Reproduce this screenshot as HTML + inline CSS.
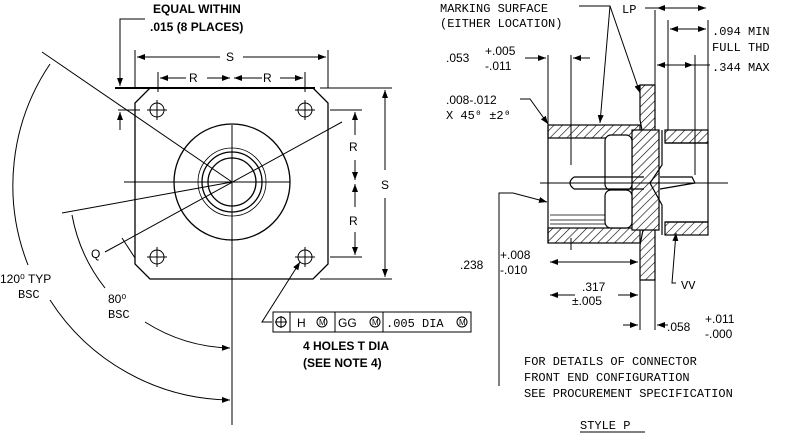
<!DOCTYPE html>
<html><head><style>
html,body{margin:0;padding:0;background:#fff;}
svg{display:block;}
text{font-family:"Liberation Sans",sans-serif;font-size:12px;fill:#000;}
.m{font-family:"Liberation Mono",monospace;font-size:12px;}
</style></head><body>
<svg width="793" height="440" viewBox="0 0 793 440" xmlns="http://www.w3.org/2000/svg">
<defs>
<pattern id="h" width="6" height="6" patternUnits="userSpaceOnUse" patternTransform="rotate(45)">
<rect width="6" height="6" fill="#fff"/><line x1="0" y1="0" x2="0" y2="6" stroke="#000" stroke-width="1.2"/></pattern>
<marker id="a" markerWidth="8" markerHeight="6" refX="8" refY="3" orient="auto" markerUnits="userSpaceOnUse"><path d="M0,0 L8,3 L0,6z" fill="#000"/></marker>
</defs>
<g stroke="#000" stroke-width="1.3" fill="none">
<path d="M150,88 L313,88 L328,103 L328,264 L313,279 L150,279 L135,264 L135,103 Z"/>
<line x1="115" y1="88" x2="315" y2="88" stroke-width="2"/>
<line x1="232" y1="125" x2="232" y2="425" stroke-width="1"/>
<line x1="124" y1="182" x2="290" y2="182" stroke-width="1"/>
<circle cx="232" cy="182" r="58"/>
<circle cx="232" cy="182" r="30"/>
<circle cx="232" cy="182" r="24"/>
<circle cx="232" cy="182" r="34" stroke-width="0.8"/>
<g stroke-width="1">
<circle cx="157" cy="110" r="7"/><circle cx="305" cy="110" r="7"/><circle cx="157" cy="257" r="7"/><circle cx="305" cy="257" r="7"/>
<path d="M147,110h20M157,100v20M295,110h20M305,100v20M147,257h20M157,247v20M295,257h20M305,247v20"/>
</g>
<line x1="135" y1="50" x2="135" y2="88" stroke-width="1"/><line x1="328" y1="50" x2="328" y2="88" stroke-width="1"/>
<line x1="220" y1="57" x2="137" y2="57" stroke-width="1" marker-end="url(#a)"/><line x1="243" y1="57" x2="326" y2="57" stroke-width="1" marker-end="url(#a)"/>
<line x1="158" y1="72" x2="158" y2="92" stroke-width="1"/><line x1="305" y1="72" x2="305" y2="92" stroke-width="1"/>
<line x1="186" y1="78" x2="160" y2="78" stroke-width="1" marker-end="url(#a)"/><line x1="207" y1="78" x2="230" y2="78" stroke-width="1" marker-end="url(#a)"/>
<line x1="262" y1="78" x2="234" y2="78" stroke-width="1" marker-end="url(#a)"/><line x1="280" y1="78" x2="303" y2="78" stroke-width="1" marker-end="url(#a)"/>
<line x1="320" y1="88" x2="392" y2="88" stroke-width="1"/><line x1="320" y1="279" x2="392" y2="279" stroke-width="1"/>
<line x1="385" y1="170" x2="385" y2="90" stroke-width="1" marker-end="url(#a)"/><line x1="385" y1="198" x2="385" y2="277" stroke-width="1" marker-end="url(#a)"/>
<line x1="330" y1="110" x2="362" y2="110" stroke-width="1"/><line x1="330" y1="257" x2="362" y2="257" stroke-width="1"/>
<line x1="355" y1="135" x2="355" y2="112" stroke-width="1" marker-end="url(#a)"/><line x1="355" y1="160" x2="355" y2="180" stroke-width="1" marker-end="url(#a)"/>
<line x1="355" y1="207" x2="355" y2="184" stroke-width="1" marker-end="url(#a)"/><line x1="355" y1="232" x2="355" y2="255" stroke-width="1" marker-end="url(#a)"/>
<polyline points="145,19 120,19 120,86" stroke-width="1" marker-end="url(#a)"/>
<line x1="118" y1="110" x2="140" y2="110" stroke-width="1"/>
<line x1="120" y1="130" x2="120" y2="112" stroke-width="1" marker-end="url(#a)"/>
<line x1="232" y1="182" x2="42" y2="52" stroke-width="1"/>
<line x1="232" y1="182" x2="62" y2="213" stroke-width="1"/>
<line x1="105" y1="252" x2="342" y2="122" stroke-width="1"/>
<line x1="122" y1="238" x2="135" y2="258" stroke-width="1"/>
<path d="M50,64 A217 217 0 0 0 28,265" stroke-width="1"/>
<path d="M50,300 A217 217 0 0 0 230,400" stroke-width="1" marker-end="url(#a)"/>
<path d="M72,215 A166 166 0 0 0 105,288" stroke-width="1"/>
<path d="M145,322 A166 166 0 0 0 230,348" stroke-width="1" marker-end="url(#a)"/>
<polyline points="272,322 262,322 300,262" stroke-width="1" marker-end="url(#a)"/>
<rect x="273" y="312" width="198" height="20" stroke-width="1"/>
<path d="M290,312v20M335,312v20M383,312v20" stroke-width="1"/>
<circle cx="281" cy="322" r="5" stroke-width="1"/><path d="M275,322h12M281,316v12" stroke-width="1"/>
<circle cx="322" cy="322" r="5" stroke-width="1"/><circle cx="375" cy="322" r="5" stroke-width="1"/><circle cx="462" cy="322" r="5" stroke-width="1"/>
</g>
<g>
<text x="153" y="13" font-weight="bold">EQUAL WITHIN</text>
<text x="150" y="31" font-weight="bold">.015 (8 PLACES)</text>
<text x="226" y="61">S</text>
<text x="189" y="82">R</text>
<text x="263" y="82">R</text>
<text x="349" y="151">R</text>
<text x="349" y="225">R</text>
<text x="381" y="189">S</text>
<text x="91" y="258">Q</text>
<text x="0" y="283">120⁰ TYP</text>
<text x="18" y="298" class="m">BSC</text>
<text x="108" y="303">80⁰</text>
<text x="108" y="318" class="m">BSC</text>
<text x="297" y="327" style="font-size:12px">H</text>
<text x="319" y="325" style="font-size:8px">M</text>
<text x="338" y="327" style="font-size:12px">GG</text>
<text x="372" y="325" style="font-size:8px">M</text>
<text x="386" y="327" class="m">.005  DIA</text>
<text x="459" y="325" style="font-size:8px">M</text>
<text x="303" y="350" font-weight="bold">4 HOLES  T  DIA</text>
<text x="303" y="367" font-weight="bold">(SEE NOTE 4)</text>
</g>
<g stroke="#000" stroke-width="1.2" fill="none">
<rect x="548" y="125" width="92" height="13" fill="url(#h)"/>
<rect x="548" y="228" width="92" height="15" fill="url(#h)"/>
<line x1="548" y1="125" x2="548" y2="243"/>
<path d="M640,85 L655,85 L655,280 L640,280 L640,245 L643,230 L643,135 L640,120 Z" fill="url(#h)"/>
<rect x="632" y="130" width="27" height="100" fill="url(#h)"/>
<rect x="605" y="135" width="27" height="55" rx="6" fill="#fff"/>
<rect x="605" y="190" width="27" height="38" rx="6" fill="#fff"/>
<rect x="665" y="130" width="43" height="13" fill="url(#h)"/>
<rect x="665" y="222" width="43" height="13" fill="url(#h)"/>
<path d="M665,143 L708,143 L708,222 L665,222"/>
<path d="M662,130 L662,165 L650,183 L662,205 L662,235"/>
<path d="M574,177 L644,177 M574,189 L644,189 M574,177 Q566,183 574,189"/>
<path d="M660,177 L692,177 L695,183 L660,189"/>
<line x1="540" y1="183" x2="728" y2="183" stroke-width="1"/>
<path d="M550,215h55M550,220h55M550,224h55" stroke-width="0.8"/>
<line x1="571" y1="238" x2="571" y2="250" stroke-width="1"/><line x1="566" y1="243" x2="576" y2="243" stroke-width="1"/>
<path d="M548,55v70M571,55v110M640,280v50M655,280v50M668,20v110M708,20v110M695,55v120M655,10v120" stroke-width="1"/>
<line x1="525" y1="58" x2="546" y2="58" stroke-width="1" marker-end="url(#a)"/>
<line x1="590" y1="58" x2="573" y2="58" stroke-width="1" marker-end="url(#a)"/>
<line x1="600" y1="262" x2="550" y2="262" stroke-width="1" marker-end="url(#a)"/>
<line x1="600" y1="262" x2="638" y2="262" stroke-width="1" marker-end="url(#a)"/>
<line x1="575" y1="295" x2="550" y2="295" stroke-width="1" marker-end="url(#a)"/>
<line x1="618" y1="295" x2="638" y2="295" stroke-width="1" marker-end="url(#a)"/>
<line x1="623" y1="325" x2="638" y2="325" stroke-width="1" marker-end="url(#a)"/>
<line x1="668" y1="325" x2="657" y2="325" stroke-width="1" marker-end="url(#a)"/>
<line x1="645" y1="8" x2="657" y2="8" stroke-width="1"/>
<line x1="680" y1="8" x2="657" y2="8" stroke-width="1" marker-end="url(#a)"/>
<line x1="680" y1="8" x2="706" y2="8" stroke-width="1" marker-end="url(#a)"/>
<line x1="685" y1="29" x2="670" y2="29" stroke-width="1" marker-end="url(#a)"/>
<line x1="685" y1="29" x2="706" y2="29" stroke-width="1" marker-end="url(#a)"/>
<line x1="675" y1="65" x2="657" y2="65" stroke-width="1" marker-end="url(#a)"/>
<line x1="675" y1="65" x2="693" y2="65" stroke-width="1" marker-end="url(#a)"/>
<line x1="693" y1="65" x2="710" y2="65" stroke-width="1"/>
<polyline points="579,6 610,6 640,93" stroke-width="1" marker-end="url(#a)"/>
<line x1="610" y1="6" x2="600" y2="123" stroke-width="1" marker-end="url(#a)"/>
<polyline points="520,99 530,99 548,124" stroke-width="1" marker-end="url(#a)"/>
<polyline points="499,386 499,193 513,193 547,202" stroke-width="1" marker-end="url(#a)"/>
<polyline points="676,283 672,283 676,233" stroke-width="1" marker-end="url(#a)"/>
<line x1="580" y1="432" x2="645" y2="432" stroke-width="1"/>
</g>
<g>
<text x="440" y="12" class="m">MARKING SURFACE</text>
<text x="440" y="27" class="m">(EITHER LOCATION)</text>
<text x="622" y="13" class="m">LP</text>
<text x="712" y="35" class="m">.094 MIN</text>
<text x="712" y="51" class="m">FULL THD</text>
<text x="712" y="71" class="m">.344 MAX</text>
<text x="446" y="62">.053</text>
<text x="485" y="55">+.005</text>
<text x="485" y="70">-.011</text>
<text x="446" y="104">.008-.012</text>
<text x="446" y="119" class="m">X 45⁰ ±2⁰</text>
<text x="460" y="269">.238</text>
<text x="500" y="259">+.008</text>
<text x="500" y="274">-.010</text>
<text x="582" y="291">.317</text>
<text x="572" y="305">±.005</text>
<text x="667" y="331">.058</text>
<text x="705" y="323">+.011</text>
<text x="705" y="338">-.000</text>
<text x="681" y="289" class="m">VV</text>
<text x="524" y="365" class="m">FOR DETAILS OF CONNECTOR</text>
<text x="524" y="381" class="m">FRONT END CONFIGURATION</text>
<text x="524" y="397" class="m">SEE PROCUREMENT SPECIFICATION</text>
<text x="580" y="429" class="m">STYLE P</text>
</g>
</svg>
</body></html>
